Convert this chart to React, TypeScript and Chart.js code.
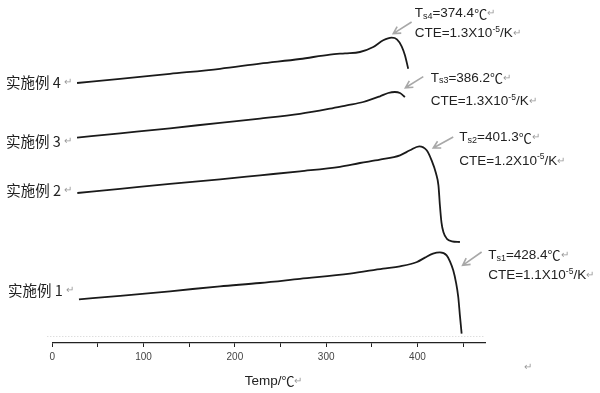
import React, { useEffect, useRef } from 'react';
import { Chart, registerables } from 'chart.js';

Chart.register(...registerables);

// ---- data (x: temperature in °C, y: offset dilatation, arbitrary units) ----
const seriesNames = ['实施例 1', '实施例 2', '实施例 3', '实施例 4'];

const temp1 = [29.2, 74.2, 128.9, 183.7, 227.5, 271.3, 326.1, 362.3, 380.9, 399.5, 408.2, 417.0, 424.6, 432.0, 435.6, 439.2, 442.2, 444.7, 446.5, 448.4];
const dl1 = [43.7, 47.2, 51.7, 56.7, 60.0, 64.2, 69.4, 74.4, 76.7, 81.0, 85.4, 89.4, 90.7, 87.7, 81.7, 72.7, 60.7, 46.0, 27.7, 9.4];

const temp2 = [27.4, 74.2, 128.9, 183.7, 227.5, 271.3, 315.1, 337.0, 358.9, 380.9, 391.8, 402.0, 410.1, 415.5, 420.3, 423.0, 424.6, 426.3, 428.5, 432.3, 437.8, 446.5];
const dl2 = [150.0, 154.2, 159.2, 163.7, 167.7, 171.7, 176.2, 180.0, 183.4, 187.7, 192.7, 196.7, 192.7, 182.7, 169.7, 157.7, 137.7, 120.7, 110.7, 104.2, 101.7, 101.0];

const temp3 = [27.1, 74.2, 128.9, 183.7, 227.5, 271.3, 304.2, 322.5, 340.6, 359.0, 368.0, 375.3, 380.8, 386.3];
const dl3 = [205.4, 209.7, 214.7, 220.2, 224.4, 229.2, 234.4, 237.7, 241.0, 246.7, 250.0, 251.0, 250.0, 246.0];

const temp4 = [27.1, 74.2, 128.9, 183.7, 227.5, 271.3, 304.2, 320.6, 337.0, 351.6, 362.5, 371.7, 377.5, 382.7, 386.3, 389.9];
const dl4 = [260.0, 264.2, 269.2, 274.2, 279.4, 284.0, 288.4, 289.7, 291.0, 296.0, 302.7, 305.4, 303.7, 296.7, 287.7, 274.2];

const softeningTemps = ['428.4', '401.3', '386.2', '374.4'];
const cteValues = ['1.1', '1.2', '1.3', '1.3'];
const tickLabels = ['0', '100', '200', '300', '400'];
const xTitle = 'Temp/℃';

const temps = [temp1, temp2, temp3, temp4];
const dls = [dl1, dl2, dl3, dl4];

// annotation placement (data coordinates)
const arrowTip = [[449.5, 77.7], [417.3, 195.0], [386.8, 255.2], [373.5, 309.4]];
const arrowTail = [[470.3, 91.0], [439.2, 206.0], [406.4, 266.4], [393.6, 321.0]];
const textAt = [[477.5, 87.7, 67.7], [445.8, 205.4, 182.0], [414.5, 265.0, 241.7], [397.0, 329.4, 309.4]];
const labelOffsetPx = [-9, -2.7, 3.7, -1];

const TXT = '#222222';
const RET = '#9a9a9a';
const SANS = '"Liberation Sans", Arial, "Noto Sans CJK SC", sans-serif';
const CJK = '"Noto Sans CJK SC", "Liberation Sans", sans-serif';

type Seg = { t: string; size: number; color?: string; dy?: number; family?: string };

function segWidth(ctx: CanvasRenderingContext2D, segs: Seg[]) {
  let w = 0;
  for (const s of segs) {
    ctx.font = `${s.size}px ${s.family || SANS}`;
    w += ctx.measureText(s.t).width;
  }
  return w;
}

function drawSegs(ctx: CanvasRenderingContext2D, x: number, y: number, segs: Seg[]) {
  ctx.textBaseline = 'middle';
  ctx.textAlign = 'left';
  let cx = x;
  for (const s of segs) {
    ctx.font = `${s.size}px ${s.family || SANS}`;
    ctx.fillStyle = s.color || TXT;
    ctx.fillText(s.t, cx, y + (s.dy || 0));
    cx += ctx.measureText(s.t).width;
  }
}

const decorPlugin = {
  id: 'decor',
  afterDraw(chart: any) {
    const ctx: CanvasRenderingContext2D = chart.ctx;
    const xs = chart.scales.x;
    const ys = chart.scales.y;
    const area = chart.chartArea;
    ctx.save();

    // faint dotted line just above the axis
    ctx.strokeStyle = '#d0d0d0';
    ctx.lineWidth = 1;
    ctx.setLineDash([1, 2]);
    ctx.beginPath();
    const gy = Math.round(ys.getPixelForValue(7)) + 0.5;
    ctx.moveTo(area.left - 5, gy);
    ctx.lineTo(area.right, gy);
    ctx.stroke();
    ctx.setLineDash([]);

    // series labels at the start of each curve
    chart.data.datasets.forEach((ds: any, i: number) => {
      const meta = chart.getDatasetMeta(i);
      const p0 = meta.data[0];
      const segs: Seg[] = [
        { t: ds.label + ' ', size: 14.5, family: CJK },
        { t: '↵', size: 10, color: RET, family: SANS },
      ];
      const w = segWidth(ctx, segs);
      drawSegs(ctx, p0.x - 5 - w, p0.y + labelOffsetPx[i], segs);
    });

    // arrows + annotation text
    for (let i = 0; i < 4; i++) {
      const tx = xs.getPixelForValue(arrowTip[i][0]);
      const ty = ys.getPixelForValue(arrowTip[i][1]);
      const sx = xs.getPixelForValue(arrowTail[i][0]);
      const sy = ys.getPixelForValue(arrowTail[i][1]);
      ctx.strokeStyle = '#a8a8a8';
      ctx.lineWidth = 1.6;
      ctx.beginPath();
      ctx.moveTo(sx, sy);
      ctx.lineTo(tx, ty);
      const ang = Math.atan2(ty - sy, tx - sx);
      const L = 8;
      ctx.moveTo(tx - L * Math.cos(ang - 0.5), ty - L * Math.sin(ang - 0.5));
      ctx.lineTo(tx, ty);
      ctx.lineTo(tx - L * Math.cos(ang + 0.5), ty - L * Math.sin(ang + 0.5));
      ctx.stroke();

      const lx = xs.getPixelForValue(textAt[i][0]);
      const l1 = ys.getPixelForValue(textAt[i][1]);
      const l2 = ys.getPixelForValue(textAt[i][2]);
      drawSegs(ctx, lx, l1, [
        { t: 'T', size: 13.5 },
        { t: 's' + (i + 1), size: 9, dy: 3 },
        { t: '=' + softeningTemps[i], size: 13.5 },
        { t: '℃', size: 13, family: CJK },
        { t: '↵', size: 10, color: RET },
      ]);
      drawSegs(ctx, lx, l2, [
        { t: 'CTE=' + cteValues[i] + 'X10', size: 13.5 },
        { t: '-5', size: 8.5, dy: -4 },
        { t: '/K', size: 13.5 },
        { t: '↵', size: 10, color: RET },
      ]);
    }

    // x axis title
    const cxm = (area.left + area.right) / 2;
    drawSegs(ctx, cxm - 24, area.bottom + 38, [
      { t: 'Temp/', size: 13.5 },
      { t: '℃', size: 13, family: CJK },
      { t: '↵', size: 10, color: RET },
    ]);
    // stray paragraph mark
    drawSegs(ctx, 524, area.bottom + 24, [{ t: '↵', size: 10, color: RET }]);

    ctx.restore();
  },
};

export default function App() {
  const ref = useRef<HTMLCanvasElement | null>(null);
  useEffect(() => {
    if (!ref.current) return;
    const datasets = seriesNames.map((name, i) => ({
      label: name,
      data: temps[i].map((t, k) => ({ x: t, y: dls[i][k] })),
      borderColor: '#1a1a1a',
      borderWidth: 1.8,
      pointRadius: 0,
      fill: false,
      cubicInterpolationMode: 'monotone' as const,
    }));
    const chart = new Chart(ref.current, {
      type: 'line',
      data: { datasets },
      plugins: [decorPlugin],
      options: {
        animation: false,
        responsive: false,
        layout: { padding: { left: 52.3, right: 115, top: 0, bottom: 0 } },
        plugins: { legend: { display: false }, tooltip: { enabled: false } },
        scales: {
          x: {
            type: 'linear',
            min: 0,
            max: 474,
            afterFit: (s: any) => { s.height = 50; },
            ticks: {
              stepSize: 50,
              includeBounds: false,
              autoSkip: false,
              maxRotation: 0,
              padding: 4,
              color: '#444',
              font: { size: 10, family: SANS },
              callback: (v: any) => (tickLabels.includes(String(v)) ? String(v) : ''),
            },
            grid: { display: true, drawOnChartArea: false, drawTicks: true, tickLength: 4, color: '#222' },
            border: { display: true, color: '#222', width: 1.3 },
          },
          y: { type: 'linear', display: false, min: 0, max: 343 },
        },
      },
    });
    return () => chart.destroy();
  }, []);
  return (
    <div style={{ position: 'fixed', left: 0, top: 0, width: 600, height: 393, background: '#fff' }}>
      <canvas ref={ref} width={600} height={393} style={{ display: 'block' }} />
    </div>
  );
}
